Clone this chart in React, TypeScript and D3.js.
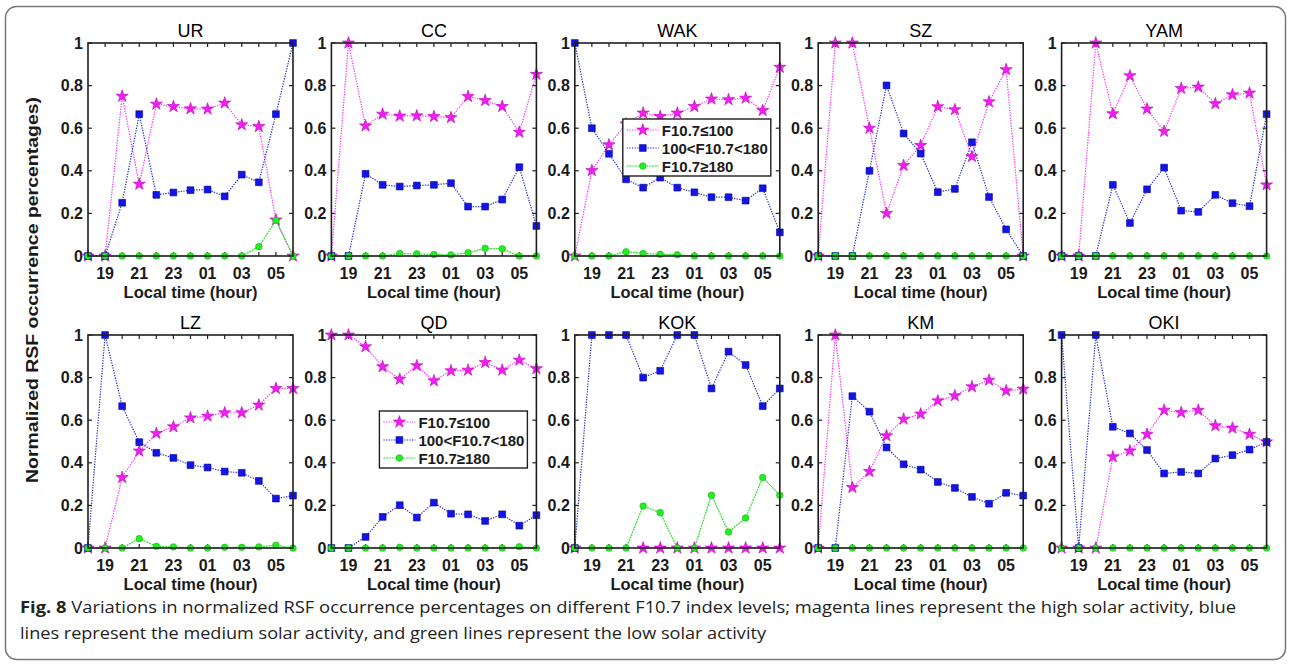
import React from 'react';
import * as d3 from 'd3';

const hours = ['18', '19', '20', '21', '22', '23', '00', '01', '02', '03', '04', '05', '06'];
const xTickLabels = ['19', '21', '23', '01', '03', '05'];
const yTicks = [0, 0.2, 0.4, 0.6, 0.8, 1];
const yTickLabels = ['0', '0.2', '0.4', '0.6', '0.8', '1'];
const stations = ['UR', 'CC', 'WAK', 'SZ', 'YAM', 'LZ', 'QD', 'KOK', 'KM', 'OKI'];
const seriesNames = ['F10.7\u2264100', '100<F10.7<180', 'F10.7\u2265180'];

type V = number | null;

// F10.7 <= 100 (magenta), 100<F10.7<180 (blue), F10.7 >= 180 (green)
const urLow: V[] = [0, 0, 0.75, 0.337, 0.713, 0.702, 0.691, 0.69, 0.718, 0.616, 0.608, 0.169, 0];
const urMid: V[] = [0, 0, 0.25, 0.666, 0.287, 0.298, 0.309, 0.312, 0.28, 0.382, 0.346, 0.666, 1];
const urHigh: V[] = [0, 0, 0, 0, 0, 0, 0, 0, 0, 0, 0.044, 0.167, 0];

const ccLow: V[] = [0, 1, 0.611, 0.666, 0.657, 0.658, 0.655, 0.65, 0.749, 0.73, 0.702, 0.581, 0.853];
const ccMid: V[] = [0, 0, 0.386, 0.334, 0.326, 0.331, 0.334, 0.342, 0.232, 0.232, 0.265, 0.417, 0.141];
const ccHigh: V[] = [0, 0, 0, 0, 0.012, 0.01, 0.007, 0.005, 0.015, 0.036, 0.034, 0, 0];

const wakLow: V[] = [0, 0.401, 0.522, 0.62, 0.671, 0.655, 0.671, 0.702, 0.737, 0.734, 0.741, 0.683, 0.886];
const wakMid: V[] = [1, 0.6, 0.48, 0.36, 0.321, 0.368, 0.321, 0.299, 0.276, 0.276, 0.26, 0.318, 0.111];
const wakHigh: V[] = [0, 0, 0, 0.02, 0.012, 0.008, 0.006, 0, 0, 0, 0, 0, 0];

const szLow: V[] = [0, 1, 1, 0.6, 0.2, 0.425, 0.519, 0.701, 0.687, 0.467, 0.724, 0.875, 0];
const szMid: V[] = [0, 0, 0, 0.4, 0.801, 0.575, 0.481, 0.3, 0.315, 0.534, 0.277, 0.125, 0];
const szHigh: V[] = [0, 0, 0, 0, 0, 0, 0, 0, 0, 0, 0, 0, 0];

const yamLow: V[] = [0, 0, 1, 0.668, 0.846, 0.69, 0.585, 0.787, 0.793, 0.715, 0.757, 0.765, 0.334];
const yamMid: V[] = [0, 0, 0, 0.334, 0.155, 0.313, 0.415, 0.213, 0.207, 0.287, 0.248, 0.234, 0.666];
const yamHigh: V[] = [0, 0, 0, 0, 0, 0, 0, 0, 0, 0, 0, 0, 0];

const lzLow: V[] = [0, 0, 0.331, 0.455, 0.538, 0.569, 0.611, 0.619, 0.635, 0.635, 0.671, 0.749, 0.749];
const lzMid: V[] = [0, 1, 0.666, 0.497, 0.447, 0.423, 0.389, 0.378, 0.359, 0.353, 0.315, 0.232, 0.246];
const lzHigh: V[] = [0, 0, 0, 0.044, 0.008, 0.005, 0, 0, 0.003, 0.003, 0.005, 0.013, 0];

const qdLow: V[] = [1, 1, 0.945, 0.851, 0.792, 0.856, 0.785, 0.832, 0.835, 0.871, 0.835, 0.882, 0.842];
const qdMid: V[] = [0, 0, 0.052, 0.146, 0.201, 0.143, 0.213, 0.161, 0.158, 0.127, 0.158, 0.105, 0.154];
const qdHigh: V[] = [0, 0, 0, 0, 0.003, 0, 0, 0, 0, 0, 0, 0.006, 0];

const kokLow: V[] = [0, null, null, null, 0, 0, 0, 0, 0, 0, 0, 0, 0];
const kokMid: V[] = [0, 1, 1, 1, 0.8, 0.832, 1, 1, 0.749, 0.922, 0.859, 0.666, 0.749];
const kokHigh: V[] = [0, 0, 0, 0, 0.197, 0.166, 0, 0, 0.248, 0.075, 0.141, 0.331, 0.248];

const kmLow: V[] = [0, 1, 0.284, 0.359, 0.527, 0.605, 0.629, 0.691, 0.715, 0.757, 0.788, 0.738, 0.746];
const kmMid: V[] = [0, 0, 0.713, 0.64, 0.472, 0.393, 0.368, 0.31, 0.282, 0.24, 0.208, 0.259, 0.246];
const kmHigh: V[] = [0, 0, 0, 0, 0, 0, 0, 0, 0, 0, 0, 0, 0];

const okiLow: V[] = [0, 0, 0, 0.428, 0.456, 0.534, 0.647, 0.636, 0.647, 0.574, 0.563, 0.534, 0.498];
const okiMid: V[] = [1, 0, 1, 0.569, 0.538, 0.46, 0.35, 0.357, 0.35, 0.42, 0.436, 0.462, 0.498];
const okiHigh: V[] = [0, 0, 0, 0, 0, 0, 0, 0, 0, 0, 0, 0, 0];

const lowSeries = [urLow, ccLow, wakLow, szLow, yamLow, lzLow, qdLow, kokLow, kmLow, okiLow];
const midSeries = [urMid, ccMid, wakMid, szMid, yamMid, lzMid, qdMid, kokMid, kmMid, okiMid];
const highSeries = [urHigh, ccHigh, wakHigh, szHigh, yamHigh, lzHigh, qdHigh, kokHigh, kmHigh, okiHigh];
const legendPanels = ['WAK', 'QD'];

const styles = [
  { line: '#ff2cff', fill: '#f01ef0', stroke: '#c000c0', dash: '1.3 1.3', sym: d3.symbolStar, size: 46 },
  { line: '#1f2fd0', fill: '#1414e6', stroke: '#00009a', dash: '1.3 1.3', sym: d3.symbolSquare, size: 46 },
  { line: '#2fe02f', fill: '#22ee22', stroke: '#14b814', dash: '2 0.8', sym: d3.symbolCircle, size: 34 },
];

const FONT = 'Liberation Sans, Arial, sans-serif';
const PW = 205;
const PH = 213;

function Panel({ idx }: { idx: number }) {
  const col = idx % 5;
  const row = Math.floor(idx / 5);
  const left = 88 + col * 243.4;
  const top = row === 0 ? 43 : 335;
  const x = d3.scaleLinear().domain([0, hours.length - 1]).range([left, left + PW]);
  const y = d3.scaleLinear().domain([0, 1]).range([top + PH, top]);
  const series = [lowSeries[idx], midSeries[idx], highSeries[idx]];
  const name = stations[idx];
  const line = d3
    .line<V>()
    .defined((d) => d !== null)
    .x((_, i) => x(i))
    .y((d) => y(d as number));

  return (
    <g>
      <text x={left + PW / 2} y={top - 6} textAnchor="middle" fontFamily={FONT} fontSize={18}>
        {name}
      </text>
      {/* ticks */}
      {hours.map((h, i) =>
        i === 0 || i === hours.length - 1 ? null : (
          <g key={'xt' + h}>
            <line x1={x(i)} x2={x(i)} y1={top + PH} y2={top + PH - 4} stroke="#222" strokeWidth={1.2} />
            <line x1={x(i)} x2={x(i)} y1={top} y2={top + 4} stroke="#222" strokeWidth={1.2} />
          </g>
        )
      )}
      {yTicks.map((t, i) => (
        <g key={'yt' + i}>
          <line x1={left} x2={left + 4} y1={y(t)} y2={y(t)} stroke="#222" strokeWidth={1.2} />
          <line x1={left + PW} x2={left + PW - 4} y1={y(t)} y2={y(t)} stroke="#222" strokeWidth={1.2} />
          <text
            x={left - 5}
            y={y(t) + 5.5}
            textAnchor="end"
            fontFamily={FONT}
            fontWeight="bold"
            fontSize={16}
            fill="#1a1a1a"
          >
            {yTickLabels[i]}
          </text>
        </g>
      ))}
      {hours.map((h, i) =>
        xTickLabels.includes(h) ? (
          <text
            key={'xl' + h}
            x={x(i)}
            y={top + PH + 23}
            textAnchor="middle"
            fontFamily={FONT}
            fontWeight="bold"
            fontSize={16}
            fill="#1a1a1a"
          >
            {h}
          </text>
        ) : null
      )}
      <text
        x={left + PW / 2}
        y={top + PH + 42}
        textAnchor="middle"
        fontFamily={FONT}
        fontWeight="bold"
        fontSize={16.5}
        fill="#1a1a1a"
      >
        Local time (hour)
      </text>
      {/* series */}
      {series.map((s, si) => {
        const st = styles[si];
        const sym = d3.symbol(st.sym, st.size)();
        return (
          <g key={'s' + si}>
            <path d={line(s) || ''} fill="none" stroke={st.line} strokeWidth={1.2} strokeDasharray={st.dash} />
            {s.map((v, i) =>
              v === null ? null : (
                <path
                  key={i}
                  d={sym || ''}
                  transform={`translate(${x(i)},${y(v)})`}
                  fill={st.fill}
                  stroke={st.stroke}
                  strokeWidth={0.6}
                />
              )
            )}
          </g>
        );
      })}
      <rect x={left} y={top} width={PW} height={PH} fill="none" stroke="#1e1e1e" strokeWidth={1.6} />
      {legendPanels.includes(name) ? <Legend lx={left + 48} ly={top + 76} /> : null}
    </g>
  );
}

function Legend({ lx, ly }: { lx: number; ly: number }) {
  return (
    <g>
      <rect x={lx} y={ly} width={148} height={57} fill="#fff" stroke="#1e1e1e" strokeWidth={1.4} />
      {seriesNames.map((n, i) => {
        const st = styles[i];
        const cy = ly + 11 + i * 18;
        const sym = d3.symbol(st.sym, st.size)();
        return (
          <g key={n}>
            <line x1={lx + 4} x2={lx + 36} y1={cy} y2={cy} stroke={st.line} strokeWidth={1.2} strokeDasharray={st.dash} />
            <path d={sym || ''} transform={`translate(${lx + 20},${cy})`} fill={st.fill} stroke={st.stroke} strokeWidth={0.6} />
            <text x={lx + 39} y={cy + 5.5} fontFamily={FONT} fontWeight="bold" fontSize={15} fill="#1a1a1a">
              {n}
            </text>
          </g>
        );
      })}
    </g>
  );
}

export default function App() {
  return (
    <svg
      width={1290}
      height={665}
      style={{ position: 'absolute', left: 0, top: 0, background: '#fff' }}
    >
      <rect x={0} y={0} width={1290} height={665} fill="#fff" />
      <rect x={5.5} y={6.5} width={1280} height={653} rx={11} fill="none" stroke="#7a7a7a" strokeWidth={1.5} />
      <text
        transform="translate(38,290) rotate(-90)"
        textAnchor="middle"
        fontFamily={FONT}
        fontWeight="bold"
        fontSize={16.5}
        fill="#1a1a1a"
        textLength={386}
        lengthAdjust="spacingAndGlyphs"
      >
        Normalized RSF occurrence percentages)
      </text>
      {stations.map((s, i) => (
        <Panel key={s} idx={i} />
      ))}
      <text
        x={20}
        y={613}
        fontFamily="'Liberation Sans Narrow', 'Open Sans', sans-serif"
        fontSize={16}
        fill="#222"
        textLength={1216}
        lengthAdjust="spacingAndGlyphs"
      >
        <tspan fontWeight="bold">Fig. 8</tspan>
        <tspan>{'  Variations in normalized RSF occurrence percentages on different F10.7 index levels; magenta lines represent the high solar activity, blue'}</tspan>
      </text>
      <text
        x={20}
        y={639}
        fontFamily="'Liberation Sans Narrow', 'Open Sans', sans-serif"
        fontSize={16}
        fill="#222"
        textLength={746}
        lengthAdjust="spacingAndGlyphs"
      >
        lines represent the medium solar activity, and green lines represent the low solar activity
      </text>
    </svg>
  );
}
